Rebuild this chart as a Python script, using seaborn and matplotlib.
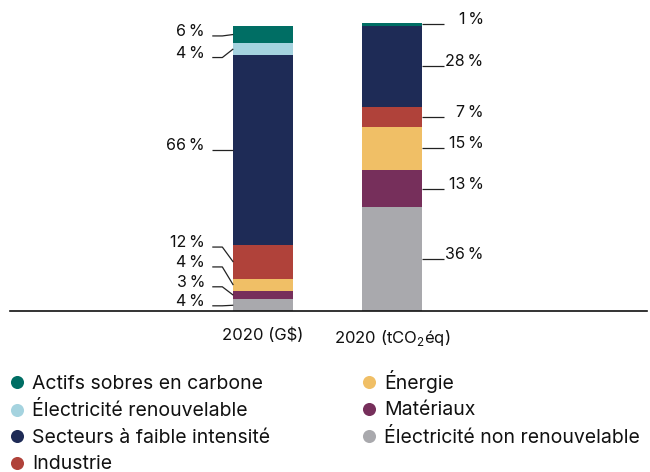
import pandas as pd
import seaborn as sns
import matplotlib.pyplot as plt
from matplotlib.lines import Line2D

# data
sources = ["2020 (G$)", "2020 (tCO$_\\mathregular{2}$éq)"]
sectors = ["Électricité non renouvelable", "Matériaux", "Énergie", "Industrie",
           "Secteurs à faible intensité", "Électricité renouvelable", "Actifs sobres en carbone"]
values_gd = [4, 3, 4, 12, 66, 4, 6]
values_co2 = [36, 13, 15, 7, 28, 0, 1]
colors = ["#a9a9ad", "#762f5b", "#f0bf66", "#b0423a", "#1e2b56", "#a5d3df", "#006e64"]

legend_col1 = ["Actifs sobres en carbone", "Électricité renouvelable",
               "Secteurs à faible intensité", "Industrie"]
legend_col2 = ["Énergie", "Matériaux", "Électricité non renouvelable"]

# label heights (in %) where leader lines start, left bar spread out
left_label_y = [1.8, 8.4, 15.3, 22.2, 56, 88, 95.5]

sns.set_style("white")
plt.rcParams["font.family"] = ["Inter", "DejaVu Sans"]

rows = []
for src, vals in zip(sources, [values_gd, values_co2]):
    bottom = 0
    for sec, v in zip(sectors, vals):
        rows.append({"source": src, "sector": sec, "value": v, "bottom": bottom})
        bottom += v
df = pd.DataFrame(rows)

fig = plt.figure(figsize=(6.5, 4.72), dpi=100)
ax = fig.add_axes([10 / 650, 1 - 311 / 472, 637 / 650, 303 / 472])

bar_w = 0.46
for sec, col in zip(sectors, colors):
    sub = df[df["sector"] == sec]
    sns.barplot(data=sub, x="source", y="value", order=sources, bottom=sub["bottom"].values,
                color=col, saturation=1, width=bar_w, errorbar=None, linewidth=0, ax=ax)

ax.set_xlim(-1.961, 2.977)
ax.set_ylim(0, 105.2)
ax.set_xlabel("")
ax.set_ylabel("")
ax.set_yticks([])
ax.tick_params(axis="x", length=0, pad=12, labelsize=12, colors="#111111")
for s in ["top", "left", "right"]:
    ax.spines[s].set_visible(False)
ax.spines["bottom"].set_color("#111111")
ax.spines["bottom"].set_linewidth(1.2)

lab_kw = dict(fontsize=11.5, color="#111111", va="baseline")
line_kw = dict(color="#222222", lw=0.9, solid_capstyle="butt")

# left bar labels
edge = -bar_w / 2
left = df[df["source"] == sources[0]]
for (_, r), ly in zip(left.iterrows(), left_label_y):
    if r["value"] == 0:
        continue
    mid = r["bottom"] + r["value"] / 2
    ax.plot([edge - 0.163, edge - 0.085, edge], [ly, ly, mid], **line_kw)
    ax.text(edge - 0.22, ly, f"{r['value']:.0f}\u2009%", ha="right", **lab_kw)

# right bar labels
edge = 1 + bar_w / 2
right = df[df["source"] == sources[1]]
for _, r in right.iterrows():
    if r["value"] == 0:
        continue
    mid = r["bottom"] + r["value"] / 2
    ax.plot([edge, edge + 0.17], [mid, mid], **line_kw)
    ax.text(edge + 0.48, mid, f"{r['value']:.0f}\u2009%", ha="right", **lab_kw)

# legend, two separate columns
col_map = dict(zip(sectors, colors))
leg_kw = dict(loc="upper left", frameon=False, fontsize=14, handletextpad=0.25,
              handlelength=1.1, labelspacing=0.435, borderaxespad=0, borderpad=0.1,
              labelcolor="#111111")
for names, x0, y0 in [(legend_col1, 4, 373), (legend_col2, 356, 368)]:
    handles = [Line2D([], [], marker="o", linestyle="", markersize=9.4,
                      markerfacecolor=col_map[s], markeredgewidth=0, label=s) for s in names]
    fig.legend(handles=handles, bbox_to_anchor=(x0 / 650, 1 - y0 / 472), **leg_kw)

fig.savefig("out.png", dpi=100)
